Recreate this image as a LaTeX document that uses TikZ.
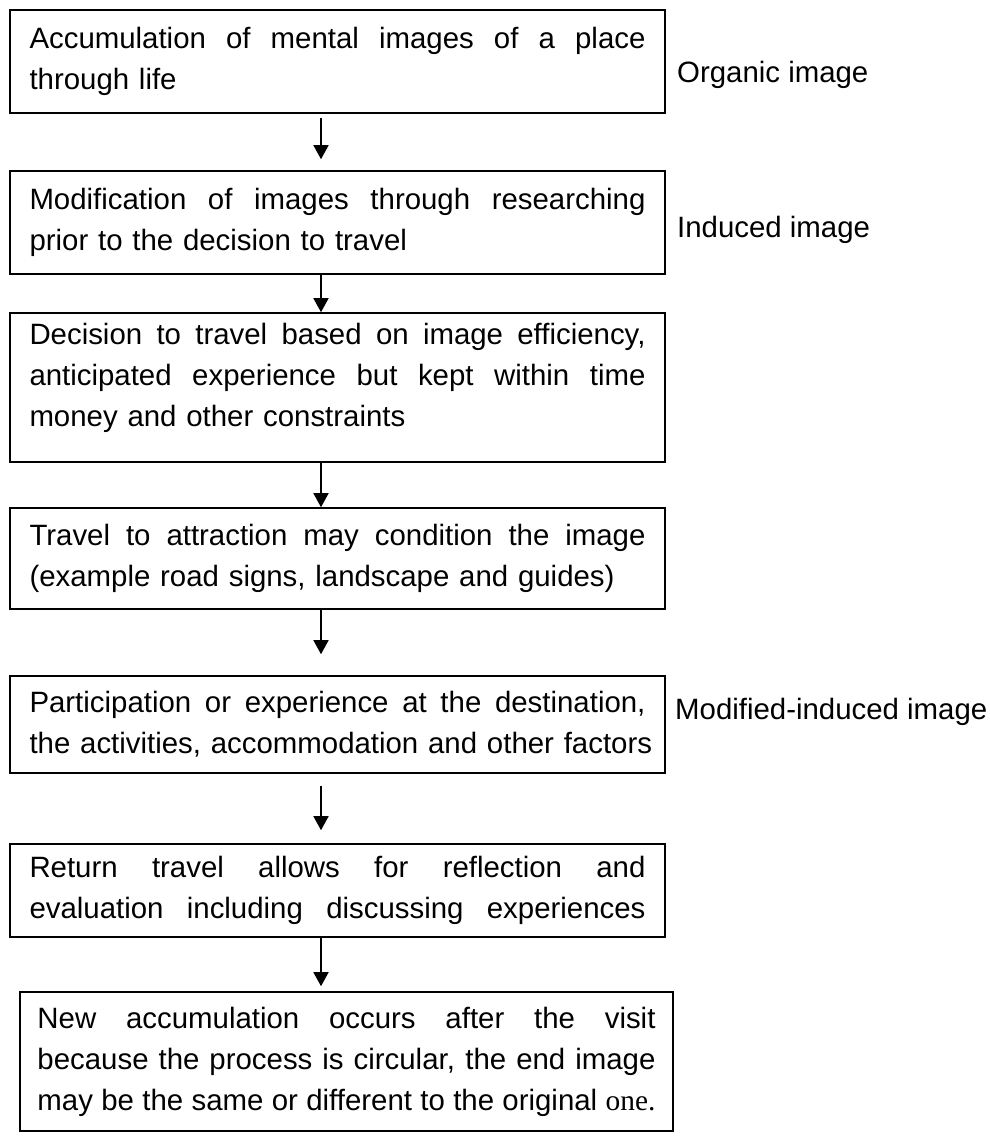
\documentclass[tikz,border=0pt]{standalone}
\usepackage{fontspec}
\setmainfont{Liberation Sans}
\newfontfamily\oneserif{Liberation Serif}
\usetikzlibrary{arrows.meta}

\newcommand\spread[2][616pt]{{\spaceskip=0pt\relax\xspaceskip=0pt\relax\makebox[#1][s]{#2}}}
\newcommand\lowpad[1]{\rule[-#1]{0pt}{1pt}}

\begin{document}
\begin{tikzpicture}[
  x=1pt, y=-1pt,
  stage/.style={draw, line width=1.6pt, minimum width=655pt, inner sep=0pt,
    text width=616pt, align=left, font=\fontsize{29.4}{41}\selectfont},
  tag/.style={anchor=west, inner sep=0pt, font=\fontsize{29.4}{36}\selectfont},
  flow/.style={-{Triangle[length=14pt,width=15pt]}, line width=1.6pt}
]
\useasboundingbox (0,0) rectangle (990,1136);

\node[stage, minimum height=103pt] (accum) at (337.5,61.5)
  {\spread{Accumulation of mental images of a place}\\ \mbox{through life}};
\node[stage, minimum height=103pt] (induce) at (337.5,222.5)
  {\spread{Modification of images through researching}\\ \mbox{prior to the decision to travel}};
\node[stage, minimum height=149pt] (decide) at (337.5,387.5)
  {\spread{Decision to travel based on image efficiency,}\\
   \spread{anticipated experience but kept within time}\\ \mbox{money and other constraints}\lowpad{25pt}};
\node[stage, minimum height=101pt] (trip) at (337.5,558.5)
  {\spread{Travel to attraction may condition the image}\\ \mbox{(example road signs, landscape and guides)}};
\node[stage, minimum height=97pt] (visit) at (337.5,724.5)
  {\spread{Participation or experience at the destination,}\\ \mbox{the activities, accommodation and other factors}};
\node[stage, minimum height=93pt] (back) at (337.5,890.5)
  {\spread{Return travel allows for reflection and}\\ \spread{evaluation including discussing experiences}};
\node[stage, minimum width=653pt, text width=618pt, minimum height=139pt] (renew) at (346.5,1061.5)
  {\spread[618pt]{New accumulation occurs after the visit}\\
   \spread[618pt]{because the process is circular, the end image}\\
   \spread[618pt]{may be the same or different to the original {\oneserif one.}}};

\node[tag] (organic) at (677,75) {Organic image};
\node[tag] (induced) at (677,230) {Induced image};
\node[tag] (modified) at (675,712) {Modified-induced image};

\coordinate (ax) at (321,0);
\draw[flow, shorten <=4pt, shorten >=11pt] (accum.south -| ax) -- (induce.north -| ax);
\draw[flow] (induce.south -| ax) -- (decide.north -| ax);
\draw[flow] (decide.south -| ax) -- (trip.north -| ax);
\draw[flow, shorten >=21pt] (trip.south -| ax) -- (visit.north -| ax);
\draw[flow, shorten <=12pt, shorten >=13pt] (visit.south -| ax) -- (back.north -| ax);
\draw[flow, shorten >=5pt] (back.south -| ax) -- (renew.north -| ax);
\end{tikzpicture}
\end{document}
